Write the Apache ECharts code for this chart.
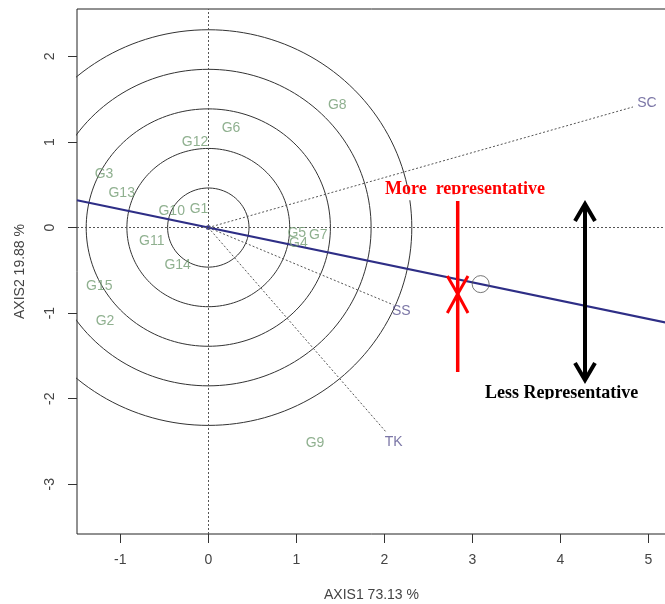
<!DOCTYPE html>
<html>
<head>
<meta charset="utf-8">
<script src="https://cdn.jsdelivr.net/npm/echarts@6/dist/echarts.min.js"></script>
<style>
html, body { margin: 0; padding: 0; background: #fff; }
#main { width: 665px; height: 604px; }
</style>
</head>
<body>
<div id="main"></div>
<script>
// genotype scores (label centres)
var genoNames = ['G1', 'G2', 'G3', 'G4', 'G5', 'G6', 'G7', 'G8', 'G9', 'G10', 'G11', 'G12', 'G13', 'G14', 'G15'];
var genoX = [-0.106, -1.174, -1.185, 1.023, 1.005, 0.258, 1.250, 1.466, 1.213, -0.416, -0.643, -0.151, -0.984, -0.348, -1.239];
var genoY = [0.215, -1.098, 0.627, -0.182, -0.065, 1.168, -0.093, 1.433, -2.519, 0.187, -0.164, 0.993, 0.402, -0.444, -0.689];

// environment vectors
var envNames = ['SC', 'SS', 'TK'];
var envX = [4.826, 2.102, 2.027];
var envY = [1.410, -0.903, -2.398];

// average environment
var avgEnv = [3.095, -0.661];

// concentric circles round the origin
var ringRadii = [0.4625, 0.925, 1.3875, 1.85, 2.3125];

var xTicks = [-1, 0, 1, 2, 3, 4, 5];
var yTicks = [-3, -2, -1, 0, 1, 2];

var xMin = -1.492, xMax = 5.201, yMin = -3.582, yMax = 2.555;

var envLabelOffset = { SC: [14, -4], SS: [8, 6], TK: [7, 9] };

var chart = echarts.init(document.getElementById('main'));

var series = [];

// circles
ringRadii.forEach(function (r) {
    var pts = [];
    for (var a = 0; a <= 360; a += 2) {
        var t = a * Math.PI / 180;
        pts.push([r * Math.cos(t), r * Math.sin(t)]);
    }
    series.push({
        type: 'line', data: pts, showSymbol: false, silent: true, clip: true,
        lineStyle: { color: '#333', width: 1 }, z: 2
    });
});

// environment vectors (dotted)
envNames.forEach(function (n, i) {
    series.push({
        type: 'line', data: [[0, 0], [envX[i], envY[i]]], showSymbol: false, silent: true,
        lineStyle: { color: '#555', width: 1, type: [2, 2] }, z: 2
    });
});

// average environment axis through origin
var slope = avgEnv[1] / avgEnv[0];
series.push({
    type: 'line', data: [[xMin, slope * xMin], [xMax, slope * xMax]], showSymbol: false, silent: true,
    lineStyle: { color: '#2e2e86', width: 2 }, z: 3,
    markLine: {
        silent: true, symbol: 'none', label: { show: false },
        lineStyle: { color: '#555', width: 1, type: [2, 2] },
        data: [{ xAxis: 0 }, { yAxis: 0 }]
    }
});

// origin dot
series.push({
    type: 'scatter', data: [[0, 0]], symbolSize: 5, itemStyle: { color: '#2e2e86' }, z: 4
});

// average environment circle
series.push({
    type: 'scatter', data: [avgEnv], symbolSize: 17,
    itemStyle: { color: 'rgba(0,0,0,0)', borderColor: '#555', borderWidth: 1 }, z: 4
});

// genotype labels
series.push({
    type: 'scatter', symbolSize: 0, z: 5,
    data: genoNames.map(function (n, i) { return { name: n, value: [genoX[i], genoY[i]] }; }),
    label: {
        show: true, position: 'inside', formatter: '{b}',
        color: '#739c73', fontSize: 14, fontFamily: 'Liberation Sans'
    }
});

// environment labels
series.push({
    type: 'scatter', symbolSize: 0, z: 5,
    data: envNames.map(function (n, i) {
        return { name: n, value: [envX[i], envY[i]], label: { offset: envLabelOffset[n] } };
    }),
    label: {
        show: true, position: 'inside', formatter: '{b}',
        color: '#5a5490', fontSize: 14, fontFamily: 'Liberation Sans'
    }
});

var option = {
    animation: false,
    backgroundColor: '#fff',
    grid: {
        left: 77, right: -1, top: 9, bottom: 70,
        show: true, borderColor: '#222', borderWidth: 1,
        outerBoundsMode: 'none'
    },
    xAxis: {
        type: 'value', min: xMin, max: xMax,
        name: 'AXIS1 73.13 %', nameLocation: 'middle', nameGap: 54,
        nameTextStyle: { color: '#444', fontSize: 14, fontFamily: 'Liberation Sans' },
        axisLine: { show: false, onZero: false },
        axisTick: { show: true, length: 9, customValues: xTicks, lineStyle: { color: '#333' } },
        axisLabel: { customValues: xTicks, margin: 19, color: '#444', fontSize: 14, fontFamily: 'Liberation Sans' },
        splitLine: { show: false }
    },
    yAxis: {
        type: 'value', min: yMin, max: yMax,
        name: 'AXIS2 19.88 %', nameLocation: 'middle', nameGap: 50,
        nameTextStyle: { color: '#444', fontSize: 14, fontFamily: 'Liberation Sans' },
        axisLine: { show: false, onZero: false },
        axisTick: { show: true, length: 9, customValues: yTicks, lineStyle: { color: '#333' } },
        axisLabel: { customValues: yTicks, rotate: 90, margin: 20, color: '#444', fontSize: 14, fontFamily: 'Liberation Sans' },
        splitLine: { show: false }
    },
    series: series,
    graphic: [
        // hand-drawn annotations
        { type: 'text', z: 100, style: { text: 'More  representative', x: 385, y: 189, font: 'bold 18px "Liberation Serif"', fill: '#ff0000', verticalAlign: 'middle' } },
        { type: 'rect', z: 101, shape: { x: 380, y: 194.3, width: 175, height: 6 }, style: { fill: '#fff' } },
        { type: 'line', z: 102, shape: { x1: 457.7, y1: 201, x2: 457.7, y2: 372 }, style: { stroke: '#ff0000', lineWidth: 3.5 } },
        { type: 'polyline', z: 102, shape: { points: [[447.3, 276], [457.7, 294], [468, 276]] }, style: { stroke: '#ff0000', lineWidth: 3, fill: null } },
        { type: 'polyline', z: 102, shape: { points: [[447.3, 313], [457.7, 294], [468, 313]] }, style: { stroke: '#ff0000', lineWidth: 3, fill: null } },
        { type: 'line', z: 102, shape: { x1: 585, y1: 204, x2: 585, y2: 380 }, style: { stroke: '#000', lineWidth: 4 } },
        { type: 'polyline', z: 102, shape: { points: [[575, 221], [585, 204], [595, 221]] }, style: { stroke: '#000', lineWidth: 4, fill: null } },
        { type: 'polyline', z: 102, shape: { points: [[575, 363], [585, 380], [595, 363]] }, style: { stroke: '#000', lineWidth: 4, fill: null } },
        { type: 'text', z: 100, style: { text: 'Less Representative', x: 485, y: 393.5, font: 'bold 18px "Liberation Serif"', fill: '#000', verticalAlign: 'middle' } },
        { type: 'rect', z: 101, shape: { x: 480, y: 399.2, width: 175, height: 6 }, style: { fill: '#fff' } }
    ]
};

chart.setOption(option);
</script>
</body>
</html>
